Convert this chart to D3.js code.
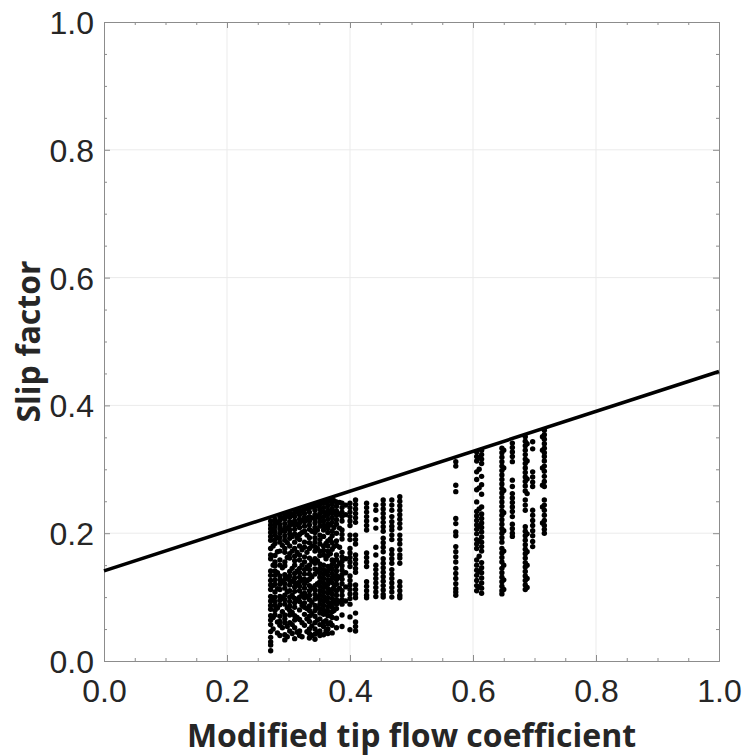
<!DOCTYPE html>
<html>
<head>
<meta charset="utf-8">
<script src="https://cdn.jsdelivr.net/npm/d3@7"></script>
<style>
  html, body { margin: 0; padding: 0; background: #fff; }
  svg { display: block; }
</style>
</head>
<body>
<svg id="chart" width="746" height="755"></svg>
<script>
// Axis tick values
const majorTicks = [0, 0.2, 0.4, 0.6, 0.8, 1.0];
const minorTicks = [0.05, 0.1, 0.15, 0.25, 0.3, 0.35, 0.45, 0.5, 0.55, 0.65, 0.7, 0.75, 0.85, 0.9, 0.95];

// Fitted slip-factor line: [x, y] at both ends of the axis
const fitX = [0, 1];
const fitY = [0.141, 0.453];

// Measured points, grouped by tip flow coefficient (column x) with their slip factors
const columnX = [
  0.271, 0.278, 0.286, 0.294, 0.302, 0.310, 0.318, 0.326, 0.334, 0.343, 0.351, 0.357,
  0.364, 0.371, 0.378, 0.387, 0.400, 0.409, 0.427, 0.442, 0.454, 0.468, 0.481,
  0.572, 0.606, 0.614, 0.647, 0.664, 0.685, 0.697, 0.716,
  0.275, 0.282, 0.290, 0.298, 0.306, 0.314, 0.322, 0.330, 0.338, 0.347, 0.361, 0.368,
  0.374, 0.383, 0.393, 0.610, 0.650, 0.688, 0.713
];
const columnY = [
  [0.219,0.213,0.207,0.201,0.195,0.189,0.176,0.166,0.160,0.141,0.134,0.126,0.119,0.112,0.101,0.094,0.087,0.081,0.071,0.064,0.057,0.046,0.037,0.030,0.025,0.016],
  [0.222,0.216,0.210,0.203,0.197,0.190,0.184,0.165,0.155,0.149,0.141,0.134,0.127,0.120,0.108,0.100,0.093,0.087,0.079,0.072],
  [0.226,0.220,0.213,0.207,0.200,0.193,0.186,0.172,0.158,0.150,0.133,0.127,0.120,0.112,0.101,0.095,0.088,0.070,0.062,0.056,0.040],
  [0.229,0.222,0.215,0.209,0.203,0.196,0.189,0.176,0.170,0.155,0.149,0.135,0.128,0.121,0.114,0.103,0.096,0.089,0.072,0.066,0.060,0.041,0.033],
  [0.231,0.225,0.218,0.212,0.205,0.199,0.192,0.180,0.168,0.161,0.140,0.133,0.126,0.119,0.110,0.100,0.093,0.086,0.079,0.072,0.060,0.047],
  [0.232,0.226,0.219,0.212,0.206,0.199,0.186,0.176,0.164,0.157,0.150,0.137,0.130,0.123,0.116,0.109,0.098,0.091,0.084,0.071,0.064,0.052,0.035],
  [0.236,0.229,0.222,0.216,0.209,0.198,0.190,0.180,0.166,0.158,0.145,0.138,0.131,0.124,0.117,0.110,0.100,0.093,0.080,0.065,0.047,0.040],
  [0.238,0.231,0.225,0.218,0.211,0.203,0.186,0.178,0.163,0.155,0.143,0.136,0.128,0.121,0.114,0.106,0.099,0.091,0.084,0.073,0.056],
  [0.240,0.233,0.226,0.219,0.213,0.206,0.193,0.185,0.176,0.161,0.150,0.143,0.136,0.128,0.118,0.110,0.103,0.096,0.086,0.079,0.070,0.062,0.050,0.043,0.036],
  [0.243,0.236,0.229,0.222,0.216,0.209,0.201,0.193,0.186,0.179,0.172,0.160,0.153,0.144,0.136,0.118,0.111,0.104,0.097,0.087,0.079,0.070,0.060,0.050,0.042,0.034],
  [0.245,0.238,0.231,0.224,0.218,0.211,0.197,0.190,0.183,0.172,0.165,0.152,0.145,0.138,0.131,0.124,0.117,0.110,0.103,0.096,0.089,0.082,0.075,0.066,0.057,0.047,0.040],
  [0.247,0.240,0.233,0.226,0.219,0.212,0.205,0.195,0.180,0.173,0.166,0.150,0.143,0.136,0.129,0.122,0.115,0.108,0.101,0.094,0.087,0.080,0.073,0.061,0.054,0.041],
  [0.250,0.243,0.236,0.229,0.222,0.215,0.208,0.201,0.188,0.180,0.172,0.165,0.148,0.141,0.134,0.127,0.120,0.113,0.106,0.099,0.092,0.085,0.078,0.071,0.058,0.050,0.043],
  [0.252,0.245,0.238,0.231,0.224,0.217,0.203,0.196,0.185,0.175,0.158,0.151,0.144,0.137,0.130,0.123,0.112,0.105,0.098,0.091,0.084,0.077,0.068,0.056,0.044],
  [0.249,0.242,0.235,0.228,0.221,0.214,0.200,0.188,0.181,0.166,0.159,0.148,0.141,0.134,0.127,0.120,0.110,0.103,0.096,0.089,0.082,0.067,0.052],
  [0.247,0.240,0.233,0.226,0.219,0.205,0.198,0.191,0.170,0.163,0.156,0.149,0.142,0.135,0.128,0.121,0.110,0.103,0.096,0.089,0.072,0.054],
  [0.247,0.240,0.233,0.226,0.219,0.212,0.197,0.190,0.176,0.169,0.162,0.155,0.148,0.133,0.126,0.119,0.112,0.105,0.098,0.089,0.069,0.049],
  [0.252,0.245,0.238,0.231,0.224,0.217,0.197,0.190,0.183,0.166,0.159,0.152,0.145,0.139,0.119,0.112,0.105,0.099,0.075,0.061,0.054,0.047],
  [0.247,0.240,0.233,0.226,0.219,0.212,0.205,0.169,0.162,0.155,0.148,0.124,0.117,0.110,0.103,0.099],
  [0.244,0.236,0.221,0.208,0.178,0.166,0.150,0.143,0.136,0.129,0.122,0.115,0.108,0.101],
  [0.252,0.245,0.238,0.231,0.224,0.217,0.210,0.203,0.192,0.185,0.178,0.171,0.160,0.153,0.146,0.139,0.132,0.125,0.118,0.111,0.104,0.100],
  [0.252,0.244,0.236,0.226,0.218,0.211,0.205,0.197,0.190,0.174,0.167,0.160,0.153,0.143,0.136,0.129,0.122,0.115,0.108,0.100],
  [0.257,0.250,0.243,0.236,0.229,0.222,0.215,0.208,0.197,0.190,0.183,0.174,0.166,0.161,0.153,0.124,0.117,0.110,0.103,0.099],
  [0.312,0.305,0.275,0.265,0.223,0.215,0.202,0.196,0.179,0.171,0.163,0.155,0.145,0.137,0.129,0.121,0.113,0.108,0.103],
  [0.327,0.320,0.313,0.296,0.284,0.268,0.249,0.234,0.227,0.220,0.213,0.206,0.199,0.190,0.183,0.176,0.158,0.150,0.142,0.134,0.126,0.118,0.110],
  [0.330,0.323,0.316,0.309,0.289,0.276,0.261,0.241,0.230,0.223,0.216,0.209,0.202,0.194,0.186,0.179,0.172,0.154,0.146,0.138,0.130,0.122,0.114,0.106],
  [0.333,0.326,0.319,0.312,0.305,0.298,0.291,0.284,0.277,0.270,0.263,0.256,0.249,0.242,0.235,0.228,0.221,0.214,0.207,0.200,0.193,0.186,0.176,0.169,0.162,0.155,0.145,0.138,0.131,0.124,0.117,0.110,0.105],
  [0.341,0.334,0.327,0.320,0.312,0.283,0.273,0.262,0.255,0.248,0.241,0.234,0.226,0.214,0.207,0.200,0.195],
  [0.351,0.344,0.337,0.330,0.323,0.316,0.309,0.302,0.295,0.288,0.281,0.274,0.266,0.252,0.244,0.236,0.210,0.203,0.196,0.189,0.182,0.175,0.168,0.161,0.154,0.147,0.140,0.133,0.126,0.119,0.112],
  [0.343,0.332,0.296,0.288,0.280,0.273,0.236,0.228,0.220,0.212,0.204,0.196,0.187,0.179],
  [0.361,0.354,0.347,0.340,0.333,0.326,0.320,0.313,0.305,0.297,0.289,0.281,0.273,0.252,0.244,0.236,0.228,0.220,0.212,0.206,0.200],
  [0.205,0.180,0.150,0.118,0.097,0.068,0.050],
  [0.217,0.193,0.171,0.138,0.113,0.083,0.061,0.044],
  [0.224,0.204,0.181,0.146,0.124,0.098,0.077,0.052],
  [0.227,0.208,0.185,0.162,0.131,0.108,0.083,0.054,0.038],
  [0.228,0.215,0.195,0.172,0.145,0.125,0.103,0.076,0.057,0.043],
  [0.233,0.214,0.193,0.170,0.141,0.120,0.095,0.068,0.045],
  [0.235,0.220,0.201,0.174,0.150,0.127,0.104,0.087,0.060,0.038],
  [0.238,0.222,0.197,0.170,0.147,0.125,0.101,0.082,0.066,0.046],
  [0.241,0.224,0.203,0.180,0.156,0.132,0.114,0.092,0.074,0.055,0.040],
  [0.243,0.226,0.205,0.176,0.157,0.140,0.121,0.100,0.083,0.064,0.045],
  [0.248,0.231,0.211,0.184,0.160,0.139,0.117,0.096,0.076,0.063,0.047],
  [0.250,0.234,0.213,0.191,0.168,0.147,0.125,0.108,0.087,0.071,0.060],
  [0.251,0.233,0.209,0.179,0.155,0.133,0.116,0.094,0.079],
  [0.248,0.230,0.208,0.178,0.153,0.131,0.114,0.093],
  [0.244,0.229,0.160,0.138,0.116,0.094],
  [0.318,0.300,0.271,0.238,0.210,0.188,0.164,0.140,0.116],
  [0.330,0.302,0.267,0.232,0.204,0.172,0.150,0.127,0.112],
  [0.340,0.313,0.285,0.262,0.199,0.171,0.150,0.129,0.115],
  [0.351,0.330,0.302,0.275,0.241,0.216]
];

const xTitle = "Modified tip flow coefficient";
const yTitle = "Slip factor";

const svg = d3.select("#chart");
const plotLeft = 104, plotRight = 719, plotTop = 22, plotBottom = 661;
const x = d3.scaleLinear().domain([0, 1]).range([plotLeft, plotRight]);
const y = d3.scaleLinear().domain([0, 1]).range([plotBottom, plotTop]);
const fmt = d3.format(".1f");
const textColor = "#262626";
const axisColor = "#8c8c8c";

// Grid lines at major ticks
const grid = svg.append("g").attr("class", "grid");
grid.selectAll("line.gx").data(majorTicks.slice(1, -1)).join("line")
  .attr("class", "gx")
  .attr("x1", d => x(d)).attr("x2", d => x(d))
  .attr("y1", plotTop).attr("y2", plotBottom)
  .attr("stroke", "#ebebeb").attr("stroke-width", 1);
grid.selectAll("line.gy").data(majorTicks.slice(1, -1)).join("line")
  .attr("class", "gy")
  .attr("y1", d => y(d)).attr("y2", d => y(d))
  .attr("x1", plotLeft).attr("x2", plotRight)
  .attr("stroke", "#ebebeb").attr("stroke-width", 1);

// Axis box with inward ticks on all four sides
function styleAxis(g) {
  g.select(".domain").attr("stroke", axisColor).attr("stroke-width", 1);
  g.selectAll(".tick line").attr("stroke", axisColor).attr("stroke-width", 1);
  g.selectAll("text").attr("fill", textColor)
    .style("font-family", "'Liberation Sans', Arial, sans-serif").style("font-size", "32px");
}
function addAxis(axisFn, scale, transform, ticks, size, labels) {
  const a = axisFn(scale).tickValues(ticks).tickSizeInner(-size).tickSizeOuter(0);
  if (!labels) a.tickFormat("");
  else a.tickFormat(fmt);
  const g = svg.append("g").attr("transform", transform).call(a);
  styleAxis(g);
  return g;
}
const xb = addAxis(d3.axisBottom, x, `translate(0,${plotBottom})`, majorTicks, 6, true);
xb.selectAll("text").attr("y", 41).attr("dy", null);
addAxis(d3.axisBottom, x, `translate(0,${plotBottom})`, minorTicks, 3, false);
addAxis(d3.axisTop, x, `translate(0,${plotTop})`, majorTicks, 6, false);
addAxis(d3.axisTop, x, `translate(0,${plotTop})`, minorTicks, 3, false);
const yl = addAxis(d3.axisLeft, y, `translate(${plotLeft},0)`, majorTicks, 6, true);
yl.selectAll("text").attr("x", -10).attr("dy", "0.36em");
addAxis(d3.axisLeft, y, `translate(${plotLeft},0)`, minorTicks, 3, false);
addAxis(d3.axisRight, y, `translate(${plotRight},0)`, majorTicks, 6, false);
addAxis(d3.axisRight, y, `translate(${plotRight},0)`, minorTicks, 3, false);

// Scatter points
const points = [];
columnX.forEach((cx, i) => columnY[i].forEach(v => points.push([cx, v])));
svg.append("g").selectAll("circle").data(points).join("circle")
  .attr("cx", d => x(d[0])).attr("cy", d => y(d[1]))
  .attr("r", 2.7).attr("fill", "#000");

// Fitted line
svg.append("path")
  .datum(fitX.map((v, i) => [v, fitY[i]]))
  .attr("d", d3.line().x(d => x(d[0])).y(d => y(d[1])))
  .attr("fill", "none").attr("stroke", "#000").attr("stroke-width", 3.6);

// Axis titles
svg.append("text")
  .attr("x", (plotLeft + plotRight) / 2).attr("y", 747)
  .attr("text-anchor", "middle")
  .attr("fill", textColor)
  .style("font-family", "'Open Sans', 'Noto Sans', sans-serif")
  .style("font-weight", "bold").style("font-size", "32px")
  .text(xTitle);
svg.append("text")
  .attr("transform", `translate(40,${(plotTop + plotBottom) / 2}) rotate(-90)`)
  .attr("text-anchor", "middle")
  .attr("fill", textColor)
  .style("font-family", "'Open Sans', 'Noto Sans', sans-serif")
  .style("font-weight", "bold").style("font-size", "32px")
  .text(yTitle);
</script>
</body>
</html>
